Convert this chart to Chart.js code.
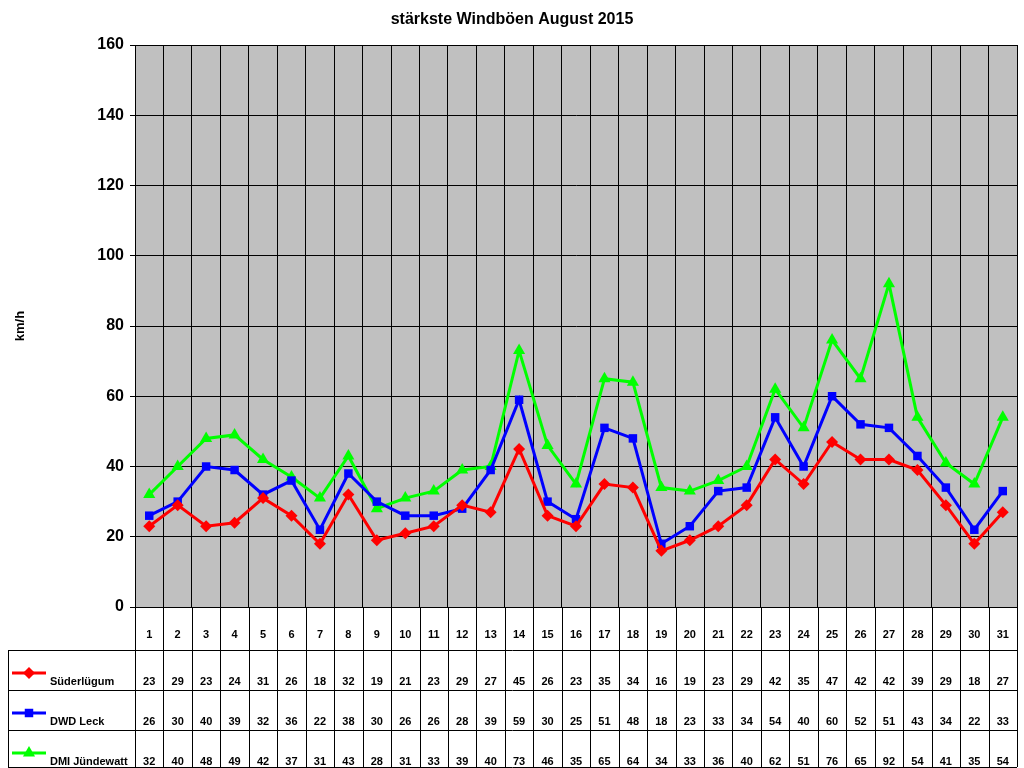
<!DOCTYPE html>
<html lang="de">
<head>
<meta charset="UTF-8">
<title>stärkste Windböen August 2015</title>
<script src="https://cdn.jsdelivr.net/npm/chart.js@4.4.2/dist/chart.umd.min.js"></script>
<style>
  body { margin: 0; background: #fff; }
  #wrap { width: 1024px; height: 768px; }
</style>
</head>
<body>
<div id="wrap"><canvas id="c" width="1024" height="768"></canvas></div>
<script>
const tage = ['1','2','3','4','5','6','7','8','9','10','11','12','13','14','15','16','17','18','19','20','21','22','23','24','25','26','27','28','29','30','31'];
const suederluegum = [23,29,23,24,31,26,18,32,19,21,23,29,27,45,26,23,35,34,16,19,23,29,42,35,47,42,42,39,29,18,27];
const dwdLeck = [26,30,40,39,32,36,22,38,30,26,26,28,39,59,30,25,51,48,18,23,33,34,54,40,60,52,51,43,34,22,33];
const dmiJuendewatt = [32,40,48,49,42,37,31,43,28,31,33,39,40,73,46,35,65,64,34,33,36,40,62,51,76,65,92,54,41,35,54];
const yTicks = [0,20,40,60,80,100,120,140,160];

const serien = [
  { label: 'Süderlügum', data: suederluegum, color: '#ff0000', style: 'rectRot', r: 6 },
  { label: 'DWD Leck', data: dwdLeck, color: '#0000ff', style: 'rect', r: 6 },
  { label: 'DMI Jündewatt', data: dmiJuendewatt, color: '#00ff00', style: 'triangle', r: 7 }
];
const zeilenY = [650, 690, 730, 767];

const tabelle = {
  id: 'tabelle',
  beforeDraw(chart) {
    const { ctx, chartArea: a } = chart;
    ctx.save();
    ctx.fillStyle = '#c0c0c0';
    ctx.fillRect(a.left, a.top, a.right - a.left, a.bottom - a.top);
    ctx.restore();
  },
  afterDraw(chart) {
    const { ctx, chartArea: a } = chart;
    const x = chart.scales.x;
    const w = (a.right - a.left) / tage.length;
    ctx.save();
    ctx.strokeStyle = '#000';
    ctx.lineWidth = 1;
    ctx.strokeRect(a.left + 0.5, a.top + 0.5, a.right - a.left, a.bottom - a.top);
    // table lines
    ctx.beginPath();
    for (let i = 0; i <= tage.length; i++) {
      const xx = Math.round(a.left + i * w) + 0.5;
      ctx.moveTo(xx, a.bottom); ctx.lineTo(xx, 767);
    }
    ctx.moveTo(8.5, zeilenY[0]); ctx.lineTo(8.5, 767);
    zeilenY.forEach(y => { ctx.moveTo(8, y + 0.5); ctx.lineTo(a.right, y + 0.5); });
    ctx.stroke();

    ctx.fillStyle = '#000';
    ctx.font = 'bold 11px Arial, "Liberation Sans", sans-serif';
    ctx.textAlign = 'center';
    ctx.textBaseline = 'middle';
    tage.forEach((t, i) => ctx.fillText(t, x.getPixelForValue(i), 635));
    serien.forEach((s, k) => {
      const ty = zeilenY[k] + 32;
      ctx.textAlign = 'center';
      s.data.forEach((v, i) => ctx.fillText(String(v), x.getPixelForValue(i), ty));
      ctx.textAlign = 'left';
      ctx.fillText(s.label, 50, ty);
      // legend key
      const ly = zeilenY[k] + 23;
      ctx.strokeStyle = s.color; ctx.lineWidth = 3;
      ctx.beginPath(); ctx.moveTo(12, ly); ctx.lineTo(46, ly); ctx.stroke();
      ctx.fillStyle = s.color;
      Chart.helpers.drawPoint(ctx, { pointStyle: s.style, radius: s.r, borderWidth: 0 }, 29, ly);
      ctx.fillStyle = '#000';
    });

    ctx.font = 'bold 16px Arial, "Liberation Sans", sans-serif';
    ctx.textAlign = 'center';
    ctx.fillText('stärkste Windböen August 2015', 512, 20);
    ctx.font = 'bold 13px Arial, "Liberation Sans", sans-serif';
    ctx.translate(20, 326);
    ctx.rotate(-Math.PI / 2);
    ctx.fillText('km/h', 0, 0);
    ctx.restore();
  }
};

new Chart(document.getElementById('c'), {
  type: 'line',
  data: {
    labels: tage,
    datasets: serien.map(s => ({
      label: s.label,
      data: s.data,
      borderColor: s.color,
      backgroundColor: s.color,
      borderWidth: 3,
      pointStyle: s.style,
      pointRadius: s.r,
      pointHoverRadius: s.r,
      pointBorderWidth: 0,
      tension: 0
    }))
  },
  options: {
    responsive: false,
    animation: false,
    layout: { padding: { left: 0, right: 4, top: 45, bottom: 161 } },
    plugins: { legend: { display: false }, title: { display: false }, tooltip: { enabled: false } },
    scales: {
      x: {
        offset: true,
        grid: { offset: true, color: '#000', drawTicks: false },
        border: { display: false },
        ticks: { display: false },
        afterFit: s => { s.height = 0; }
      },
      y: {
        min: 0, max: 160,
        afterBuildTicks: s => { s.ticks = yTicks.map(v => ({ value: v })); },
        afterFit: s => { s.width = 135; },
        grid: { color: '#000', drawTicks: true, tickLength: 5 },
        border: { color: '#000' },
        ticks: { color: '#000', font: { family: 'Arial, "Liberation Sans", sans-serif', size: 16, weight: 'bold' }, padding: 6 }
      }
    }
  },
  plugins: [tabelle]
});
</script>
</body>
</html>
